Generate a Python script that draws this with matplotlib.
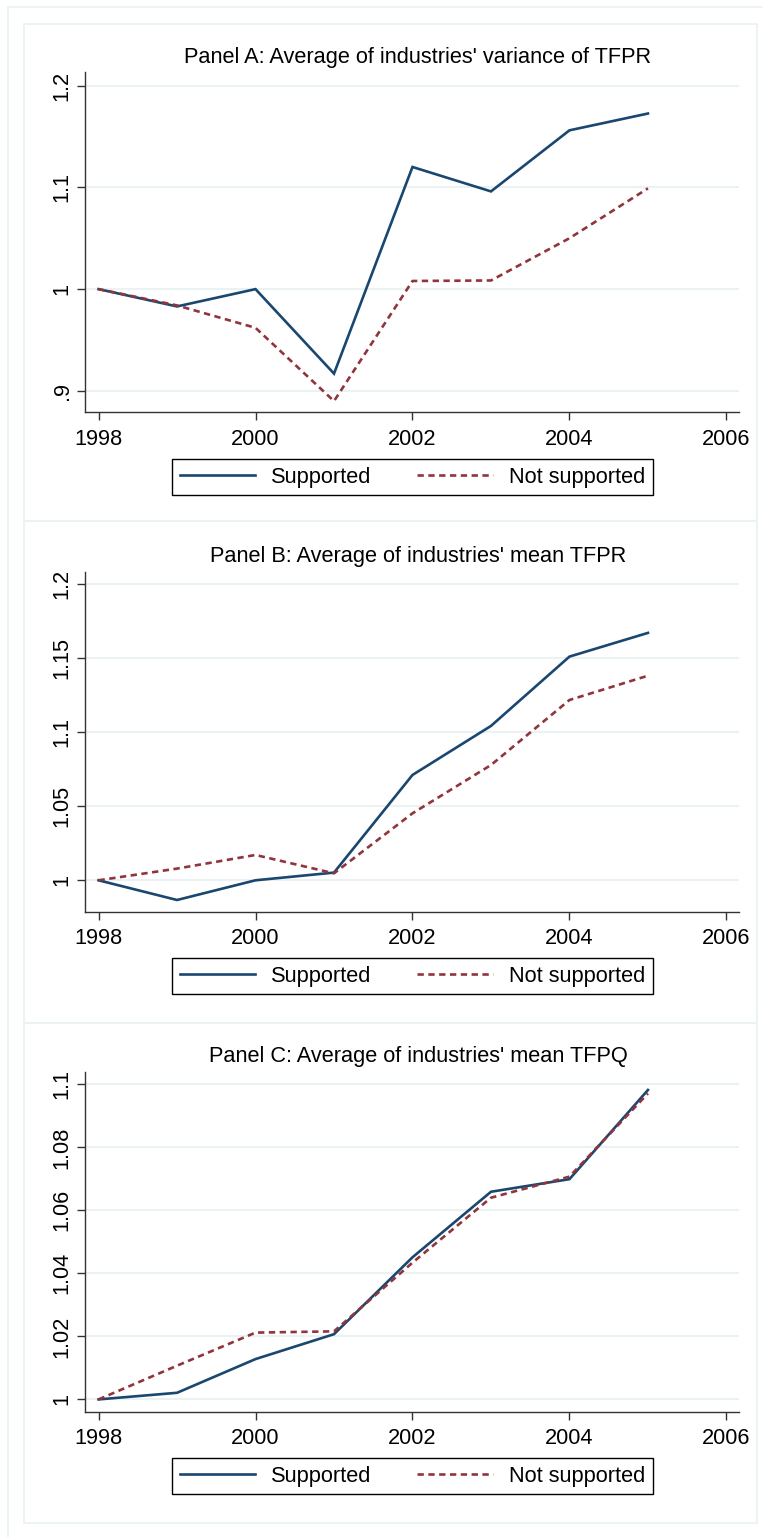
import matplotlib
matplotlib.use("Agg")
import matplotlib.pyplot as plt
from matplotlib.patches import Rectangle
from matplotlib.lines import Line2D

years = [1998, 1999, 2000, 2001, 2002, 2003, 2004, 2005]

a_supported = [1.000, 0.983, 1.000, 0.917, 1.120, 1.096, 1.156, 1.1725]
a_not_supported = [1.000, 0.984, 0.962, 0.890, 1.008, 1.0085, 1.050, 1.099]

b_supported = [1.000, 0.9867, 1.000, 1.0052, 1.0711, 1.1042, 1.151, 1.167]
b_not_supported = [1.000, 1.0079, 1.0171, 1.0047, 1.0452, 1.0778, 1.1217, 1.1381]

c_supported = [1.000, 1.0021, 1.0128, 1.0207, 1.0451, 1.0659, 1.0699, 1.0982]
c_not_supported = [1.000, 1.0107, 1.0212, 1.0216, 1.0434, 1.064, 1.0707, 1.0971]

titles = ["Panel A: Average of industries' variance of TFPR",
          "Panel B: Average of industries' mean TFPR",
          "Panel C: Average of industries' mean TFPQ"]
yticks_list = [[0.9, 1.0, 1.1, 1.2],
               [1.0, 1.05, 1.1, 1.15, 1.2],
               [1.0, 1.02, 1.04, 1.06, 1.08, 1.1]]
ylabels_list = [[".9", "1", "1.1", "1.2"],
                ["1", "1.05", "1.1", "1.15", "1.2"],
                ["1", "1.02", "1.04", "1.06", "1.08", "1.1"]]
ylims = [(0.879, 1.213), (0.9788, 1.2079), (0.9961, 1.104)]
xticks = [1998, 2000, 2002, 2004, 2006]
series_names = ["Supported", "Not supported"]

data = [(a_supported, a_not_supported),
        (b_supported, b_not_supported),
        (c_supported, c_not_supported)]

W, H = 762, 1537
DPI = 100
plt.rcParams['font.family'] = ['Liberation Sans', 'DejaVu Sans']
FS = 15.7
LW = 1.9
DASH = (2.4, 1.7)

fig = plt.figure(figsize=(W / DPI, H / DPI), dpi=DPI)
fig.patch.set_facecolor('white')

border_col = '#EAF2F3'

def fx(px):
    return px / W

def fy(py):
    return 1 - py / H

# outer border
fig.patches.append(Rectangle((fx(8), fy(1560)), fx(800) - fx(8), fy(7) - fy(1560),
                             transform=fig.transFigure, fill=False,
                             edgecolor=border_col, linewidth=1.3, zorder=0))
# panel borders
panel_tops = [24, 521, 1023]
panel_bottoms = [521, 1023, 1523]
for t, b in zip(panel_tops, panel_bottoms):
    fig.patches.append(Rectangle((fx(24), fy(b)), fx(757) - fx(24), fy(t) - fy(b),
                                 transform=fig.transFigure, fill=False,
                                 edgecolor=border_col, linewidth=1.3, zorder=0))

ax_tops = [72.3, 572.3, 1071.7]
ax_bottoms = [412.3, 911.7, 1411.7]
title_y = [57, 556.7, 1056.7]
legend_cy = [477.2, 976.3, 1476.3]
left_px, right_px = 85.2, 739

navy = '#1a476f'
maroon = '#90353b'

for i in range(3):
    ax = fig.add_axes([fx(left_px), fy(ax_bottoms[i]),
                       fx(right_px) - fx(left_px), fy(ax_tops[i]) - fy(ax_bottoms[i])])
    ax.set_facecolor('white')
    sup, nsup = data[i]
    ax.plot(years, sup, color=navy, lw=LW, solid_joinstyle='miter', zorder=3)
    ax.plot(years, nsup, color=maroon, lw=LW, dashes=DASH, zorder=3)
    ax.set_xlim(1997.83, 2006.16)
    ax.set_ylim(*ylims[i])
    ax.set_xticks(xticks)
    ax.set_xticklabels([str(x) for x in xticks], fontsize=FS)
    ax.set_yticks(yticks_list[i])
    ax.set_yticklabels(ylabels_list[i], fontsize=FS, rotation=90, va='center')
    for s in ['top', 'right']:
        ax.spines[s].set_visible(False)
    for s in ['left', 'bottom']:
        ax.spines[s].set_color('#333333')
        ax.spines[s].set_linewidth(1.0)
    ax.tick_params(axis='both', direction='out', length=6, width=1.0, color='#333333')
    ax.tick_params(axis='x', pad=6)
    ax.tick_params(axis='y', pad=3)
    ax.yaxis.grid(True, color=border_col, lw=1.5, zorder=0)
    ax.set_axisbelow(True)
    fig.text(fx(418), fy(title_y[i]), titles[i], fontsize=FS, ha='center', va='center')

    handles = [Line2D([], [], color=navy, lw=LW),
               Line2D([], [], color=maroon, lw=LW, dashes=DASH)]
    leg = fig.legend(handles, series_names, loc='center',
                     bbox_to_anchor=(fx(412.5), fy(legend_cy[i])),
                     bbox_transform=fig.transFigure, ncol=2, fontsize=FS,
                     handlelength=3.45, handletextpad=0.75, columnspacing=2.1,
                     borderpad=0.35, frameon=True, fancybox=False,
                     edgecolor='black', framealpha=1, borderaxespad=0)
    leg.get_frame().set_linewidth(1.0)

fig.savefig('out.png', dpi=DPI, facecolor='white')
